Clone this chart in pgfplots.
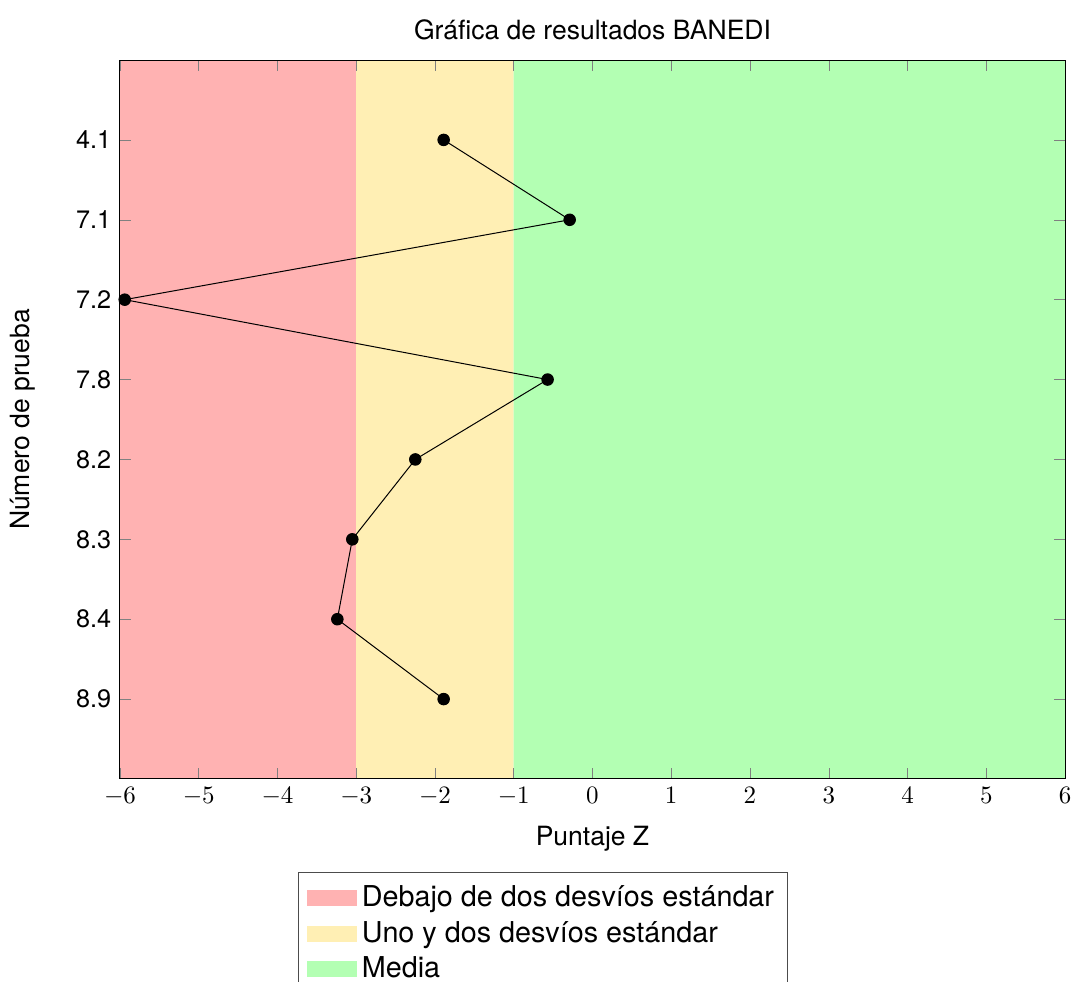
\documentclass[border=0pt]{standalone}
\usepackage{pgfplots}
\pgfplotsset{compat=1.18}
\usepackage{fontspec}
\setmainfont{TeX Gyre Heros}
\definecolor{zred}{RGB}{255,178,178}
\definecolor{zyel}{RGB}{255,239,180}
\definecolor{zgrn}{RGB}{179,255,179}
\begin{document}
\begin{tikzpicture}
\begin{axis}[
  name=ax,
  scale only axis,
  width=378pt, height=287.6pt,
  xmin=-6, xmax=6, ymin=-1, ymax=8,
  y dir=reverse,
  xtick={-6,...,6},
  ytick={0,...,7},
  yticklabels={4.1,7.1,7.2,7.8,8.2,8.3,8.4,8.9},
  tick label style={font=\fontsize{10}{12}\selectfont},
  yticklabel style={font=\fontsize{10.1}{12}\selectfont},
  label style={font=\fontsize{10.6}{12.5}\selectfont},
  title style={font=\fontsize{10.6}{12.5}\selectfont, at={(0.5,1)}, anchor=center, yshift=6pt},
  title={Gráfica de resultados BANEDI},
  xlabel={Puntaje Z},
  ylabel={Número de prueba},
  xlabel style={at={(0.5,0)}, anchor=center, yshift=-24pt},
  ylabel style={at={(0,0.5)}, anchor=center, yshift=38.8pt},
  axis on top,
  legend style={at={(0.4476,-0.1293)}, anchor=north,
    font=\fontsize{11.5}{14.8}\selectfont, draw=black!70,
    inner xsep=3.5pt, inner ysep=3.2pt,
    row sep=0.4pt,
    cells={anchor=west}},
  legend image code/.code={\fill[#1] (0pt,-3.2pt) rectangle (20pt,3.2pt);},
]
\addplot[fill=zred, draw=none] coordinates {(-6,-1) (-3,-1) (-3,8) (-6,8) (-6,-1)};
\addlegendentry{Debajo de dos desvíos estándar}
\addplot[fill=zyel, draw=none] coordinates {(-3,-1) (-1,-1) (-1,8) (-3,8) (-3,-1)};
\addlegendentry{Uno y dos desvíos estándar}
\addplot[fill=zgrn, draw=none] coordinates {(-1,-1) (6,-1) (6,8) (-1,8) (-1,-1)};
\addlegendentry{Media}
\addplot[black, line width=0.4pt, mark=*, mark size=2.3pt, forget plot] coordinates {
  (-1.89,0) (-0.29,1) (-5.94,2) (-0.57,3) (-2.25,4) (-3.05,5) (-3.24,6) (-1.89,7)
};
\end{axis}
\pgfresetboundingbox
\path[use as bounding box] ([shift={(-48pt,24pt)}]ax.north west) rectangle ([shift={(4pt,-81.2pt)}]ax.south east);
\end{tikzpicture}
\end{document}
